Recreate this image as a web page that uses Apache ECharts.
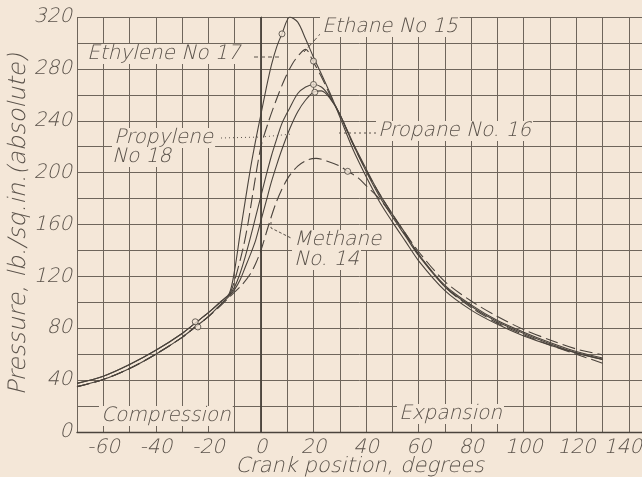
<!DOCTYPE html>
<html>
<head>
<meta charset="utf-8">
<script src="https://cdn.jsdelivr.net/npm/echarts@6/dist/echarts.min.js"></script>
<style>
  html, body { margin: 0; padding: 0; background: #f4e7d8; }
  #chart { width: 642px; height: 477px; }
</style>
</head>
<body>
<div id="chart"></div>
<script>
// crank position (deg) / pressure (lb/sq.in. absolute)
const ethaneDeg = [-70, -60, -50, -40, -30, -25, -20, -15, -12, -10, -8, -6, -4, -2, 0, 2, 4, 6, 8, 11, 14, 17, 20, 23, 27, 30, 35, 40, 45, 50, 55, 60, 70, 80, 90, 100, 110, 120, 130]
const ethanePsi = [37.5, 43, 52, 63, 76, 84, 92, 101, 107, 125, 152, 178, 203, 225, 245, 265, 283, 297, 307, 320, 316, 303, 289, 276, 258, 243, 218, 197, 178, 162, 147, 132, 109, 94, 83, 74, 67, 61, 56]

const ethyleneDeg = [-70, -60, -50, -40, -30, -25, -20, -15, -12, -10, -7, -5, -3, 0, 3, 6, 9, 12, 15, 17, 20, 23, 26, 30, 35, 40, 45, 50, 55, 60, 70, 80, 90, 100, 110, 120, 130]
const ethylenePsi = [35, 40.5, 49, 60, 73, 81, 89, 99, 106, 117, 140, 160, 185, 220, 240, 257, 272, 284, 292, 295, 285, 274, 261, 245, 222, 202, 184, 168, 152, 137, 112, 96, 84, 75, 67, 60, 53]

const propaneDeg = [-70, -60, -50, -40, -30, -25, -20, -15, -12, -10, -8, -6, -4, -2, 0, 2, 4, 6, 8, 11, 14, 17, 20, 23, 26, 30, 35, 40, 45, 50, 55, 60, 70, 80, 90, 100, 110, 120, 130]
const propanePsi = [37.5, 43, 52, 63, 76, 84, 92, 101, 106, 112, 122, 135, 150, 166, 182, 198, 213, 226, 238, 250, 261, 266, 268, 266, 259, 245, 223, 203, 184, 168, 153, 137, 113, 98, 86, 77, 69, 62, 57]

const propyleneDeg = [-70, -60, -50, -40, -30, -25, -20, -15, -12, -10, -8, -6, -4, -2, 0, 2, 4, 6, 8, 11, 14, 17, 20, 23, 26, 30, 35, 40, 45, 50, 55, 60, 70, 80, 90, 100, 110, 120, 130]
const propylenePsi = [35, 40.5, 49, 60, 73, 81, 89, 99, 105, 110, 117, 127, 137, 148, 163, 178, 193, 206, 218, 234, 247, 256, 262, 263, 258, 245, 222, 201, 182, 166, 151, 136, 112, 97, 85, 76, 68, 61, 56]

const methaneDeg = [-70, -60, -50, -40, -30, -25, -20, -15, -12, -10, -7, -4, -2, 0, 3, 6, 10, 14, 18, 21, 25, 30, 33, 37, 40, 45, 50, 55, 60, 70, 80, 90, 100, 110, 120, 130]
const methanePsi = [35, 40.5, 49, 60, 73, 81, 89, 98, 104, 108, 114, 122, 130, 140, 160, 178, 195, 205, 210, 211, 209, 205, 201, 196, 190, 180, 167, 153, 139, 116, 101, 89, 79, 71, 64, 59.5]

// small circles drawn on the curves
const circleDeg = [8, 20, 20, 20.5, 33, -25, -24]
const circlePsi = [307, 286, 268, 262, 201, 85, 81]

const ink = '#4a433c'
const gridInk = '#6e655b'
const textInk = '#5a524a'
const bg = '#f4e7d8'
const font = '"DejaVu Sans Light", "DejaVu Sans ExtraLight", "DejaVu Sans", sans-serif'

const pairs = (xs, ys) => xs.map((x, i) => [x, ys[i]])

const curve = (name, xs, ys, dashed) => ({
  name,
  type: 'line',
  smooth: 0.3,
  symbol: 'none',
  lineStyle: { color: ink, width: 1.1, type: dashed ? [13, 5] : 'solid' },
  data: pairs(xs, ys),
  z: 3
})

const chart = echarts.init(document.getElementById('chart'))

const labelText = (text, x, y) => ({
  type: 'text',
  left: x,
  top: y,
  z: 10,
  style: {
    text,
    font: 'italic 200 20px ' + font,
    fill: textInk,
    backgroundColor: bg,
    padding: [0, 2]
  }
})

const leader = (points, dash) => ({
  type: 'polyline',
  z: 9,
  shape: { points },
  style: { stroke: textInk, lineWidth: 1, lineDash: dash, fill: null }
})

const tickFont = { fontFamily: font, fontStyle: 'italic', fontWeight: 200, fontSize: 20, color: textInk }

chart.setOption({
  animation: false,
  backgroundColor: bg,
  grid: { left: 77, right: 0, top: 17, bottom: 45, containLabel: false, outerBoundsMode: 'none' },
  xAxis: {
    type: 'value',
    min: -70,
    max: 145,
    interval: 10,
    name: 'Crank position, degrees',
    nameLocation: 'middle',
    nameGap: 24,
    nameMoveOverlap: false,
    nameTextStyle: Object.assign({}, tickFont, { fontSize: 21 }),
    axisLine: { lineStyle: { color: ink, width: 1.4 } },
    axisTick: { show: false },
    axisLabel: Object.assign({}, tickFont, {
      margin: 6,
      formatter: v => {
        if (v === 140) return '{end|140}'
        return (v % 20 === 0 && v < 140) ? String(v) : ''
      },
      rich: { end: Object.assign({}, tickFont, { padding: [0, 12, 0, 0] }) }
    }),
    splitLine: { lineStyle: { color: gridInk, width: 1 } }
  },
  yAxis: {
    type: 'value',
    min: 0,
    max: 320,
    interval: 20,
    name: 'Pressure, lb./sq.in.(absolute)',
    nameLocation: 'middle',
    nameGap: 46,
    nameMoveOverlap: false,
    nameTextStyle: Object.assign({}, tickFont, { fontSize: 24 }),
    axisLine: { show: true, lineStyle: { color: gridInk, width: 1 } },
    axisTick: { show: false },
    axisLabel: Object.assign({}, tickFont, {
      margin: 5,
      formatter: v => v % 40 === 0 ? String(v) : ''
    }),
    splitLine: { lineStyle: { color: gridInk, width: 1 } }
  },
  series: [
    Object.assign(curve('Ethane No 15', ethaneDeg, ethanePsi, false), {
      markLine: {
        silent: true,
        symbol: 'none',
        label: { show: false },
        lineStyle: { color: ink, width: 1.8, type: 'solid' },
        data: [{ xAxis: 0 }]
      }
    }),
    curve('Ethylene No 17', ethyleneDeg, ethylenePsi, true),
    curve('Propane No. 16', propaneDeg, propanePsi, false),
    curve('Propylene No 18', propyleneDeg, propylenePsi, false),
    curve('Methane No. 14', methaneDeg, methanePsi, true),
    {
      name: 'points',
      type: 'scatter',
      symbol: 'circle',
      symbolSize: 6,
      itemStyle: { color: bg, borderColor: ink, borderWidth: 1 },
      data: pairs(circleDeg, circlePsi),
      z: 4
    }
  ],
  graphic: [
    labelText('Ethane No 15', 320, 17),
    labelText('Ethylene No 17', 85, 44),
    labelText('Propylene', 112, 128),
    labelText('No 18', 110, 147),
    labelText('Propane No. 16', 376, 121),
    labelText('Methane', 292, 230),
    labelText('No. 14', 292, 250),
    labelText('Compression', 99, 406),
    labelText('Expansion', 397, 404),
    leader([[254, 57], [280, 57]], [4, 3]),
    leader([[322, 32], [304, 52]], [5, 3]),
    leader([[221, 138], [262, 137], [292, 134]], [1, 3]),
    leader([[376, 133], [338, 133]], [2, 3]),
    leader([[295, 240], [271, 228], [271, 222]], [3, 2])
  ]
})
</script>
</body>
</html>
